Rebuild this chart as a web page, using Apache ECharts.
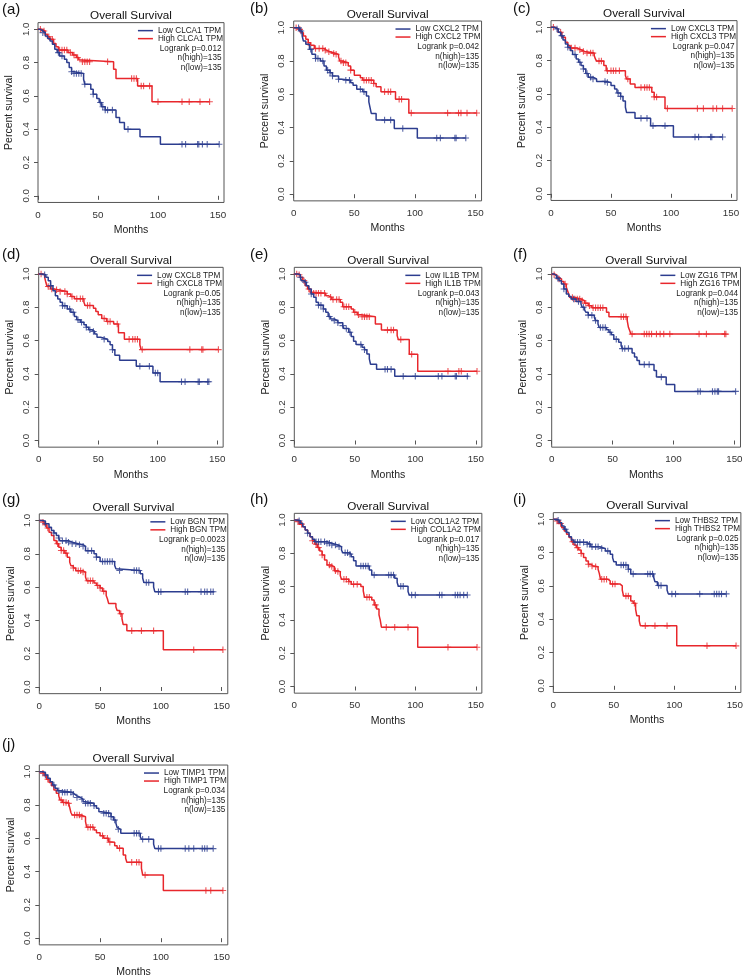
<!DOCTYPE html>
<html>
<head>
<meta charset="utf-8">
<script src="https://cdn.jsdelivr.net/npm/echarts@6/dist/echarts.min.js"></script>
<style>
  html, body { margin: 0; padding: 0; background: #fff; }
  #main { width: 746px; height: 979px; }
</style>
</head>
<body>
<div id="main"></div>
<script>
// ---- data ----
const panelLabels = ['(a)', '(b)', '(c)', '(d)', '(e)', '(f)', '(g)', '(h)', '(i)', '(j)']
const genes = ['CLCA1', 'CXCL2', 'CXCL3', 'CXCL8', 'IL1B', 'ZG16', 'BGN', 'COL1A2', 'THBS2', 'TIMP1']
const logrankP = ['0.012', '0.042', '0.047', '0.05', '0.043', '0.044', '0.0023', '0.017', '0.025', '0.034']
const nHigh = [135, 135, 135, 135, 135, 135, 135, 135, 135, 135]
const nLow = [135, 135, 135, 135, 135, 135, 135, 135, 135, 135]
const xTicks = [0, 50, 100, 150]
const yTicks = [0, 0.2, 0.4, 0.6, 0.8, 1.0]

// each step: [months, survival after the drop]; censor marks: months
const lowA = [[0,1],[2,0.99],[4,0.98],[6,0.96],[8,0.945],[10,0.93],[12,0.91],[14,0.88],[16,0.86],[18,0.84],[22,0.82],[24,0.8],[26,0.77],[28,0.745],[30,0.735],[38,0.7],[39,0.67],[44,0.64],[46,0.61],[49,0.585],[51,0.56],[53,0.535],[56,0.515],[65,0.47],[68,0.44],[72,0.4],[85,0.355],[102,0.31],[151,0.31]]
const lowCensA = [4,17,20,28,30,32,34,36,39,46,52,54,56,58,62,75,120,123,133,134,137,141,151]
const highA = [[0,1],[3,0.99],[6,0.97],[8,0.955],[10,0.94],[13,0.915],[15,0.895],[17,0.875],[25,0.86],[29,0.845],[32,0.83],[34,0.815],[36,0.805],[63,0.76],[65,0.705],[83,0.66],[95,0.565],[143,0.565]]
const highCensA = [2,5,9,12,18,20,22,24,27,30,33,37,39,41,43,58,78,80,82,86,88,93,100,120,126,135,143]

const lowB = [[0,1],[5,0.98],[7,0.95],[8,0.92],[10,0.9],[13,0.87],[15,0.84],[18,0.815],[22,0.8],[25,0.77],[27,0.745],[30,0.73],[32,0.71],[37,0.69],[40,0.685],[47,0.67],[49,0.655],[52,0.63],[57,0.615],[60,0.59],[62,0.555],[63,0.52],[64,0.485],[68,0.445],[83,0.395],[102,0.338],[142,0.338]]
const lowCensB = [4,6,14,18,20,24,28,30,32,37,43,46,55,58,75,80,90,118,121,133,134,142]
const highB = [[0,1],[3,0.99],[6,0.97],[8,0.95],[10,0.93],[12,0.91],[14,0.895],[17,0.875],[25,0.865],[27,0.855],[30,0.845],[35,0.84],[37,0.825],[38,0.8],[40,0.79],[45,0.77],[47,0.745],[50,0.715],[55,0.7],[57,0.685],[66,0.665],[68,0.645],[72,0.615],[84,0.57],[95,0.488],[151,0.488]]
const highCensB = [2,5,12,18,21,24,26,29,33,35,39,41,43,47,58,60,62,64,66,75,78,80,87,89,97,127,136,138,143,151]

const lowC = [[0,1],[3,0.99],[6,0.97],[8,0.95],[10,0.924],[12,0.9],[14,0.88],[16,0.86],[18,0.837],[21,0.81],[23,0.79],[25,0.77],[27,0.75],[29,0.723],[31,0.7],[35,0.69],[38,0.675],[46,0.668],[50,0.65],[53,0.63],[55,0.605],[58,0.585],[60,0.558],[62,0.52],[63,0.488],[70,0.454],[83,0.408],[102,0.341],[143,0.341]]
const lowCensC = [5,9,14,20,24,27,30,33,35,45,47,56,58,75,80,85,95,120,123,133,134,143]
const highC = [[0,1],[3,0.99],[6,0.97],[9,0.94],[12,0.91],[14,0.89],[16,0.875],[22,0.865],[25,0.855],[28,0.845],[36,0.83],[37,0.81],[38,0.797],[44,0.77],[46,0.739],[62,0.71],[63,0.69],[66,0.66],[70,0.639],[84,0.61],[86,0.582],[95,0.512],[151,0.512]]
const highCensC = [2,8,17,20,24,27,30,33,35,40,42,47,50,52,54,57,64,75,78,80,82,86,88,97,122,127,135,138,143,151]

const lowD = [[0,1],[3,0.995],[6,0.98],[8,0.96],[10,0.93],[12,0.9],[14,0.87],[16,0.85],[18,0.83],[20,0.809],[24,0.79],[27,0.77],[30,0.745],[32,0.725],[35,0.71],[38,0.695],[40,0.68],[42,0.665],[45,0.655],[47,0.64],[49,0.62],[52,0.608],[58,0.595],[60,0.575],[62,0.545],[64,0.512],[68,0.482],[82,0.446],[96,0.406],[102,0.353],[143,0.353]]
const lowCensD = [5,10,20,22,26,29,33,36,40,43,46,55,62,85,93,98,100,120,123,134,135,142,143]
const highD = [[0,1],[3,0.995],[5,0.98],[6,0.95],[7,0.925],[10,0.91],[13,0.905],[16,0.895],[24,0.88],[27,0.865],[30,0.851],[38,0.83],[39,0.811],[46,0.795],[48,0.775],[50,0.755],[53,0.733],[57,0.715],[63,0.7],[67,0.647],[72,0.608],[85,0.575],[86,0.546],[151,0.546]]
const highCensD = [2,8,11,15,18,22,24,28,32,35,37,41,43,55,58,60,66,76,79,81,83,87,127,137,138,151]

const lowE = [[0,1],[3,0.995],[5,0.98],[6,0.96],[8,0.95],[10,0.93],[12,0.91],[14,0.88],[16,0.86],[18,0.83],[20,0.813],[24,0.79],[26,0.77],[28,0.745],[30,0.73],[33,0.72],[36,0.707],[40,0.69],[41,0.673],[45,0.65],[47,0.625],[49,0.596],[51,0.576],[56,0.56],[58,0.545],[60,0.52],[62,0.49],[63,0.458],[68,0.428],[83,0.386],[144,0.386]]
const lowCensE = [5,9,14,20,22,24,29,33,36,40,43,46,55,58,75,77,80,90,100,119,122,133,134,143]
const highE = [[0,1],[3,0.995],[5,0.98],[7,0.96],[9,0.93],[11,0.91],[13,0.89],[15,0.884],[26,0.87],[28,0.86],[31,0.847],[38,0.83],[40,0.803],[47,0.79],[49,0.77],[52,0.755],[55,0.743],[67,0.7],[72,0.663],[85,0.63],[86,0.606],[95,0.518],[102,0.416],[151,0.416]]
const highCensE = [2,4,8,12,16,18,20,22,25,30,32,35,37,41,43,45,50,53,56,58,60,62,77,80,82,88,97,127,136,138,151]

const lowF = [[0,1],[2,0.99],[4,0.975],[6,0.96],[8,0.94],[10,0.91],[12,0.88],[14,0.865],[16,0.85],[20,0.835],[24,0.82],[25,0.8],[27,0.785],[28,0.77],[30,0.753],[35,0.74],[36,0.72],[38,0.7],[39,0.679],[45,0.665],[47,0.65],[49,0.635],[51,0.608],[55,0.59],[57,0.57],[58,0.552],[66,0.525],[68,0.502],[70,0.48],[72,0.456],[84,0.42],[86,0.381],[94,0.337],[101,0.295],[151,0.295]]
const lowCensF = [5,10,18,22,26,30,33,36,40,42,44,48,53,58,60,63,76,80,90,120,122,132,134,136,137,151]
const highF = [[0,1],[2,0.995],[4,0.98],[6,0.97],[8,0.955],[10,0.94],[12,0.92],[13,0.9],[14,0.88],[15,0.859],[19,0.85],[24,0.84],[27,0.825],[30,0.81],[33,0.797],[45,0.77],[47,0.743],[62,0.72],[63,0.68],[64,0.66],[65,0.639],[143,0.639]]
const highCensF = [2,6,11,17,19,21,23,25,28,31,34,36,38,40,42,57,59,61,66,76,78,80,82,86,89,92,97,121,127,142,143]

const lowG = [[0,1],[3,0.995],[5,0.98],[8,0.96],[10,0.94],[12,0.925],[14,0.91],[16,0.895],[17,0.878],[24,0.87],[27,0.86],[32,0.855],[36,0.845],[38,0.818],[45,0.8],[47,0.78],[50,0.754],[62,0.73],[63,0.71],[64,0.7],[83,0.68],[85,0.655],[86,0.628],[94,0.6],[95,0.572],[144,0.572]]
const lowCensG = [5,12,16,19,22,24,27,30,33,36,40,43,47,52,54,56,58,60,66,78,80,82,88,90,98,100,120,122,133,136,138,141,143]
const highG = [[0,1],[2,0.99],[4,0.975],[6,0.955],[8,0.93],[10,0.91],[12,0.88],[14,0.86],[16,0.84],[18,0.82],[21,0.804],[23,0.78],[25,0.75],[26,0.728],[28,0.715],[30,0.698],[36,0.69],[38,0.66],[39,0.638],[45,0.625],[47,0.61],[50,0.595],[52,0.575],[55,0.55],[56,0.53],[57,0.502],[63,0.48],[64,0.46],[66,0.44],[68,0.41],[69,0.375],[72,0.338],[102,0.224],[151,0.224]]
const highCensG = [3,7,15,18,20,22,28,32,34,36,40,42,44,48,50,53,67,76,84,94,127,151]

const lowH = [[0,1],[3,0.995],[5,0.98],[7,0.96],[9,0.94],[11,0.92],[13,0.9],[15,0.885],[17,0.87],[27,0.86],[31,0.85],[36,0.84],[39,0.82],[40,0.804],[45,0.795],[47,0.78],[49,0.755],[51,0.724],[62,0.7],[64,0.67],[83,0.65],[85,0.625],[86,0.602],[94,0.57],[95,0.55],[143,0.55]]
const lowCensH = [4,11,18,20,22,25,27,29,31,34,37,42,44,46,55,57,59,61,66,78,80,82,88,90,97,100,120,122,133,135,137,140,143]
const highH = [[0,1],[2,0.99],[4,0.975],[7,0.96],[9,0.94],[11,0.92],[13,0.9],[15,0.875],[17,0.855],[19,0.835],[21,0.814],[23,0.79],[25,0.76],[27,0.73],[30,0.72],[33,0.695],[36,0.69],[38,0.665],[39,0.644],[45,0.63],[47,0.614],[55,0.6],[57,0.575],[58,0.536],[64,0.52],[66,0.49],[68,0.465],[70,0.43],[71,0.4],[72,0.356],[102,0.236],[151,0.236]]
const highCensH = [3,6,15,18,20,23,29,31,34,36,41,43,45,49,52,60,62,67,76,83,94,127,151]

const lowI = [[0,1],[3,0.995],[5,0.98],[7,0.96],[9,0.94],[11,0.92],[13,0.895],[15,0.875],[17,0.862],[27,0.85],[31,0.835],[38,0.825],[43,0.81],[47,0.79],[49,0.77],[50,0.745],[52,0.726],[62,0.7],[64,0.672],[83,0.65],[84,0.625],[86,0.602],[94,0.575],[95,0.552],[143,0.552]]
const lowCensI = [4,10,18,20,22,25,28,30,32,35,37,40,45,56,58,60,62,66,78,80,82,87,89,98,101,121,133,135,137,139,143]
const highI = [[0,1],[2,0.99],[4,0.975],[7,0.95],[9,0.93],[11,0.91],[13,0.89],[15,0.865],[17,0.845],[19,0.83],[21,0.815],[23,0.795],[25,0.77],[27,0.75],[29,0.73],[31,0.72],[33,0.715],[37,0.7],[38,0.675],[39,0.64],[45,0.63],[47,0.612],[55,0.6],[57,0.575],[58,0.54],[64,0.51],[66,0.496],[68,0.46],[69,0.42],[71,0.39],[72,0.36],[102,0.24],[151,0.24]]
const highCensI = [3,6,16,20,23,29,32,35,40,42,44,49,51,60,62,67,76,84,94,127,151]

const lowJ = [[0,1],[3,0.995],[5,0.98],[7,0.96],[9,0.94],[11,0.92],[13,0.9],[15,0.885],[17,0.876],[27,0.865],[29,0.855],[31,0.845],[34,0.835],[36,0.82],[38,0.81],[45,0.795],[47,0.78],[49,0.76],[51,0.75],[59,0.73],[61,0.71],[63,0.69],[64,0.665],[65,0.654],[67,0.63],[83,0.61],[84,0.594],[94,0.565],[95,0.538],[143,0.538]]
const lowCensJ = [5,12,16,19,21,23,26,28,31,35,38,40,42,45,53,55,57,59,62,65,78,80,82,85,90,98,100,120,123,127,134,136,138,143]
const highJ = [[0,1],[2,0.99],[4,0.975],[6,0.955],[8,0.935],[10,0.915],[12,0.89],[14,0.87],[16,0.855],[17,0.83],[19,0.815],[24,0.81],[25,0.785],[26,0.755],[27,0.74],[34,0.73],[38,0.7],[39,0.666],[45,0.65],[47,0.634],[50,0.615],[53,0.6],[57,0.58],[58,0.576],[62,0.555],[64,0.54],[69,0.5],[71,0.48],[72,0.456],[84,0.42],[85,0.38],[102,0.286],[151,0.286]]
const highCensJ = [3,7,18,20,22,24,29,31,33,35,40,42,44,52,56,58,66,76,80,82,87,137,141,151]

const lowSteps = [lowA, lowB, lowC, lowD, lowE, lowF, lowG, lowH, lowI, lowJ]
const lowCens = [lowCensA, lowCensB, lowCensC, lowCensD, lowCensE, lowCensF, lowCensG, lowCensH, lowCensI, lowCensJ]
const highSteps = [highA, highB, highC, highD, highE, highF, highG, highH, highI, highJ]
const highCens = [highCensA, highCensB, highCensC, highCensD, highCensE, highCensF, highCensG, highCensH, highCensI, highCensJ]

// ---- layout: [x of month 0, y of survival 1.0, px per month] ----
const boxes = [
  [38, 29.3, 1.2], [293.7, 27.7, 1.212], [551, 27.3, 1.2],
  [38.7, 274, 1.19], [294.3, 274, 1.21], [551.7, 274, 1.218],
  [39.3, 520.5, 1.216], [294.3, 520, 1.21], [553.3, 519.3, 1.211],
  [39.3, 771.7, 1.216]
]
const labelPos = [[2, 10], [250, 8.5], [513, 8.5], [2, 255], [250, 255], [513, 255], [2, 500], [250, 500], [513, 500], [2, 745]]
const PPU = 166.5
const XMAX = 155
const YMIN = -0.04
const YMAX = 1.04
const W = 746
const BLUE = '#2c3d8f'
const RED = '#e8272c'
const FONT = '"Liberation Sans", Arial, Helvetica, sans-serif'
const PLUS = 'path://M5,0h2v12h-2z M0,5h12v2h-12z'

function survAt (steps, t) {
  let s = steps[0][1]
  for (const p of steps) {
    if (p[0] <= t) s = p[1]
    else break
  }
  return s
}

const chart = echarts.init(document.getElementById('main'), null, { renderer: 'canvas' })
const grid = []
const xAxis = []
const yAxis = []
const series = []
const legend = []
const title = []

genes.forEach((g, i) => {
  const [x0, y1, ppm] = boxes[i]
  const top = y1 - (YMAX - 1) * PPU
  const height = (YMAX - YMIN) * PPU
  const width = XMAX * ppm
  const right = x0 + width
  grid.push({ left: x0, top: top, width: width, height: height, show: true, borderColor: '#555', borderWidth: 1 })
  xAxis.push({
    type: 'value', gridIndex: i, min: 0, max: XMAX,
    name: 'Months', nameLocation: 'middle', nameGap: 22,
    nameTextStyle: { fontSize: 10.5, color: '#222', fontFamily: FONT },
    axisLine: { show: false }, splitLine: { show: false },
    axisTick: { show: true, customValues: xTicks, length: 4, lineStyle: { color: '#555' } },
    axisLabel: { customValues: xTicks, margin: 7.5, fontSize: 9.8, color: '#333', fontFamily: FONT }
  })
  yAxis.push({
    type: 'value', gridIndex: i, min: YMIN, max: YMAX,
    name: 'Percent survival', nameLocation: 'middle', nameGap: 23, nameRotate: 90,
    nameTextStyle: { fontSize: 10.5, color: '#222', fontFamily: FONT },
    axisLine: { show: false }, splitLine: { show: false },
    axisTick: { show: true, customValues: yTicks, length: 4, lineStyle: { color: '#555' } },
    axisLabel: { customValues: yTicks, rotate: 90, margin: 7, fontSize: 9.8, color: '#333', fontFamily: FONT,
      formatter: v => v.toFixed(1) }
  })
  const lowName = 'Low ' + g + ' TPM'
  const highName = 'High ' + g + ' TPM'
  series.push({
    name: lowName, type: 'line', xAxisIndex: i, yAxisIndex: i, step: 'end', symbol: 'none',
    data: lowSteps[i], lineStyle: { color: BLUE, width: 1.5 }, itemStyle: { color: BLUE }, z: 3
  })
  series.push({
    name: highName, type: 'line', xAxisIndex: i, yAxisIndex: i, step: 'end', symbol: 'none',
    data: highSteps[i], lineStyle: { color: RED, width: 1.5 }, itemStyle: { color: RED }, z: 2
  })
  series.push({
    name: lowName + ' censored', type: 'scatter', xAxisIndex: i, yAxisIndex: i,
    data: lowCens[i].map(t => [t, survAt(lowSteps[i], t)]),
    symbol: PLUS, symbolSize: 6.5, itemStyle: { color: BLUE }, z: 3
  })
  series.push({
    name: highName + ' censored', type: 'scatter', xAxisIndex: i, yAxisIndex: i,
    data: highCens[i].map(t => [t, survAt(highSteps[i], t)]),
    symbol: PLUS, symbolSize: 6.5, itemStyle: { color: RED }, z: 2
  })
  legend.push({
    data: [lowName, highName], orient: 'vertical', align: 'left',
    right: W - (right - 1), top: top + 4, padding: 0, itemGap: 0,
    itemWidth: 15, itemHeight: 1.5, icon: 'rect', selectedMode: false,
    textStyle: { fontSize: 8.2, lineHeight: 8, color: '#222', fontFamily: FONT }
  })
  title.push({
    text: 'Logrank p=' + logrankP[i] + '\nn(high)=' + nHigh[i] + '\nn(low)=' + nLow[i],
    left: right - 2.5, top: top + 21.2, padding: 0, textAlign: 'right', textVerticalAlign: 'top',
    textStyle: { fontSize: 8.2, lineHeight: 9.6, fontWeight: 'normal', color: '#222', fontFamily: FONT }
  })
  title.push({
    text: 'Overall Survival', left: x0 + width / 2, top: top - 6.5, padding: 0,
    textAlign: 'center', textVerticalAlign: 'middle',
    textStyle: { fontSize: 11.7, fontWeight: 'normal', color: '#111', fontFamily: FONT }
  })
  title.push({
    text: panelLabels[i], left: labelPos[i][0], top: labelPos[i][1], padding: 0,
    textAlign: 'left', textVerticalAlign: 'middle',
    textStyle: { fontSize: 15, fontWeight: 'normal', color: '#111', fontFamily: FONT }
  })
})

chart.setOption({
  animation: false,
  backgroundColor: '#fff',
  title: title,
  legend: legend,
  grid: grid,
  xAxis: xAxis,
  yAxis: yAxis,
  series: series
})
</script>
</body>
</html>
